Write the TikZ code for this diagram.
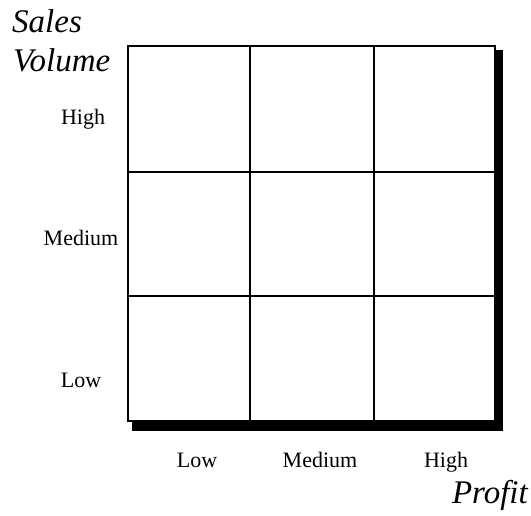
\documentclass[tikz,border=0pt]{standalone}
\usepackage{fontspec}
\setmainfont{Liberation Serif}
\usetikzlibrary{positioning}
\definecolor{ink}{RGB}{0,0,0}

\tikzset{
  axislabel/.style={anchor=base west,font=\fontsize{33}{38}\selectfont\itshape,text=ink,inner sep=0pt},
  levellabel/.style={anchor=base,font=\fontsize{22}{26}\selectfont,text=ink,inner sep=0pt},
  gridline/.style={draw=ink,line width=1.3pt}
}

\begin{document}
\begin{tikzpicture}[x=1pt,y=-1pt]
  \useasboundingbox (0,0) rectangle (531,516);
  % shadow, then the box on top
  \fill[ink] (132,50) rectangle (503,431);
  \fill[white] (128,46) rectangle (495,421);
  \draw[gridline] (128,46) rectangle (495,421);
  \foreach \gx in {250,374}
    \draw[gridline] (\gx,46) -- (\gx,421);
  \foreach \gy in {172,296}
    \draw[gridline] (128,\gy) -- (495,\gy);

  % axis titles
  \node[axislabel] (sales) at (12,33) {Sales};
  \node[axislabel] (volume) at (13,72) {Volume};
  \node[axislabel,anchor=base east] (profit) at (528,503) {Profit};

  % sales volume levels
  \node[levellabel] (vhigh) at (83,125) {High};
  \node[levellabel] (vmed) at (81,246) {Medium};
  \node[levellabel] (vlow) at (81,387) {Low};

  % profit levels
  \node[levellabel] (plow) at (197,467) {Low};
  \node[levellabel] (pmed) at (320,467) {Medium};
  \node[levellabel] (phigh) at (446,467) {High};
\end{tikzpicture}
\end{document}
